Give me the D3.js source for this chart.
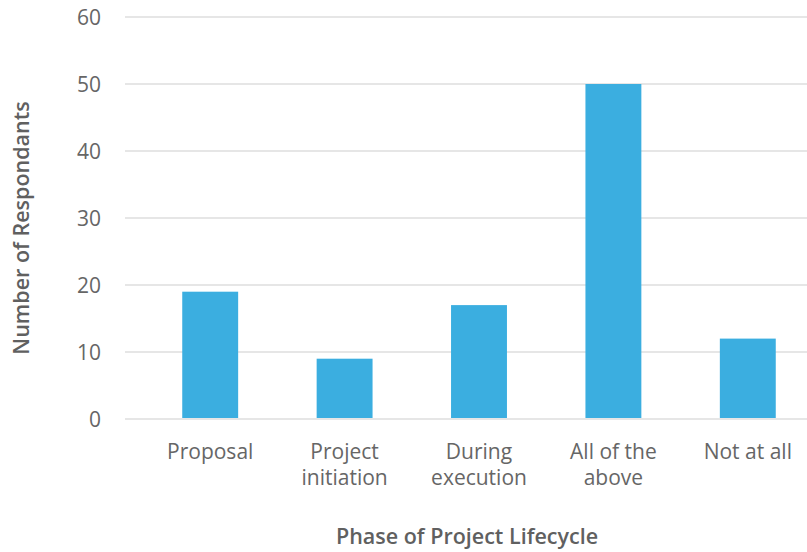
<!DOCTYPE html>
<html><head><meta charset="utf-8">
<script src="https://cdn.jsdelivr.net/npm/d3@7"></script>
<style>body{margin:0;background:#fff}svg{display:block}</style>
</head><body>
<svg id="c" width="807" height="552"></svg>
<script>
const categories = [["Proposal"],["Project","initiation"],["During","execution"],["All of the","above"],["Not at all"]];
const values = [19, 9, 17, 50, 12];
const yTicks = [0,10,20,30,40,50,60];
const xTitle = "Phase of Project Lifecycle";
const yTitle = "Number of Respondants";

const svg = d3.select("#c");
const font = "'Open Sans', sans-serif";
const x = d3.scaleBand().domain(d3.range(values.length)).range([143, 815]).paddingInner(0.584).paddingOuter(0.292);
const y = d3.scaleLinear().domain([0,60]).range([419, 17]);

svg.append("g").selectAll("line").data(yTicks).join("line")
  .attr("x1",125).attr("x2",807).attr("y1",d=>y(d)).attr("y2",d=>y(d))
  .attr("stroke","#e6e6e6").attr("stroke-width",2);

svg.append("g").selectAll("text").data(yTicks).join("text")
  .attr("x",101).attr("y",d=>y(d)).attr("dy","0.36em").attr("text-anchor","end")
  .attr("font-family",font).attr("font-size",21).attr("font-weight",400).attr("fill","#666")
  .text(d=>d);

svg.append("g").selectAll("rect").data(values).join("rect")
  .attr("x",(d,i)=>x(i)).attr("width",x.bandwidth())
  .attr("y",d=>y(d)).attr("height",d=>y(0)-y(d)-1)
  .attr("fill","#3baee0");

const lab = svg.append("g").selectAll("text").data(categories).join("text")
  .attr("text-anchor","middle").attr("font-family",font).attr("font-size",21).attr("font-weight",400).attr("fill","#666")
  .attr("transform",(d,i)=>`translate(${x(i)+x.bandwidth()/2},459)`);
lab.selectAll("tspan").data(d=>d).join("tspan").attr("x",0).attr("y",(d,j)=>j*26).text(d=>d);

svg.append("text").attr("x",467).attr("y",544).attr("text-anchor","middle")
  .attr("font-family",font).attr("font-size",21.5).attr("font-weight",600).attr("fill","#606060").text(xTitle);
svg.append("text").attr("transform","translate(29,228) rotate(-90)").attr("text-anchor","middle")
  .attr("font-family",font).attr("font-size",21.5).attr("font-weight",600).attr("fill","#606060").text(yTitle);
</script>
</body></html>
